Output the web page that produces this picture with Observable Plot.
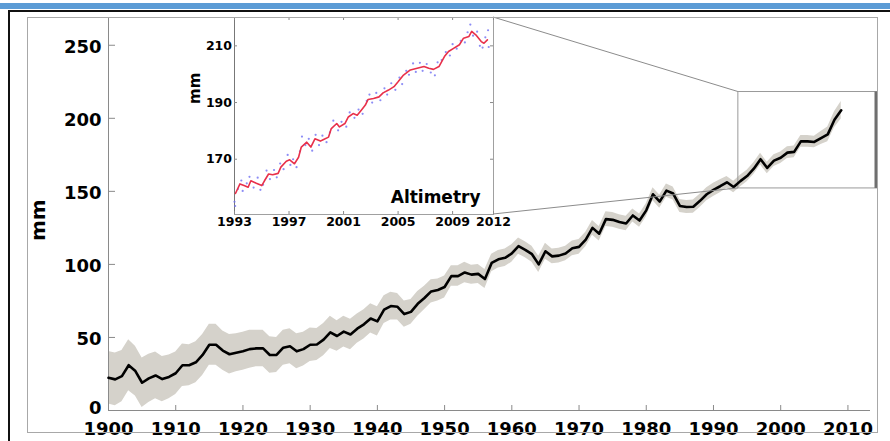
<!DOCTYPE html>
<html><head><meta charset="utf-8">
<script src="https://cdn.jsdelivr.net/npm/d3@7"></script>
<script src="https://cdn.jsdelivr.net/npm/@observablehq/plot@0.6"></script>
<style>
html,body{margin:0;padding:0;background:#fff;}
#wrap{position:relative;width:890px;height:441px;overflow:hidden;}
#wrap svg{position:absolute;left:0;top:0;}
.deco{position:absolute;box-sizing:border-box;}
</style></head><body>
<div id="wrap"></div>
<script>
// ---------- main series (global mean sea level, mm) ----------
const firstYear = 1900, lastYear = 2009;
const gmsl = [
  22.4,21.3,23.5,31,27,19,22,24,21.5,23,
  25.5,31,31,33,38,45,45,41,38.5,39.5,
  40.5,42,42.5,42.5,38,38,43,44,40.5,42,
  45,45.2,48.5,53.5,51,54,52,56,59,63,
  61,69,71.5,71,66,67.5,73,77,81.5,82.5,
  84.5,92,92,94.5,93,93.5,90,101,103.5,104.5,
  107.5,112.5,110,107,100,109,105.5,106,107.5,111,
  112,117,125,121,131,130.5,129,128,133.5,130,
  137,148,143,150.5,148.5,140,139.3,139.5,143.5,148,
  151,153.5,156.2,153,157,160.5,165.5,172,166,171,
  173,176.5,177,184.2,184.2,183.8,186.5,189,199,205.5
];
const uncertainty = [
  18,18,17.5,17.5,17,17,16.5,16,15.5,15,
  14.5,14.5,14,14,14,14,14,13.5,13.5,13,
  13,13,12.5,12.5,12.5,12,12,12,12,11.5,
  11.5,11,11,11,10.5,10.5,10.5,10,10,10,
  10,9.5,9.5,9,9,8.5,8.5,8,8,7.5,
  7.5,7,7,7,6.5,6.5,6.5,6,6,6,
  6,5.5,5.5,5.5,5.5,5.5,5,5,5,5,
  5,5,5,5,5,5,5,5,4.5,4.5,
  4.5,4.5,4.5,4.5,4.5,4.5,4.5,4.5,4.5,4.5,
  4.5,4.5,4,4,4,4,4,4,4,4,
  4,4,4,4,4,4,4.5,5,5.5,6
];
const xTicks = [1900,1910,1920,1930,1940,1950,1960,1970,1980,1990,2000,2010];
const yTicks = [0,50,100,150,200,250];
const xDomain = [1900, 2014.4];
const yDomain = [0, 269];
const zoomX = [1993.7, 2014.4];
const zoomY = [152, 218];

// ---------- inset (satellite altimetry) ----------
const redYears = [1993.07,1993.4,1993.7,1994.0,1994.2,1994.6,1995.0,1995.2,1995.5,1995.8,1996.2,1996.4,1996.8,1997.05,1997.4,1997.7,1997.9,1998.3,1998.6,1998.9,1999.3,1999.5,1999.9,2000.1,2000.5,2000.7,2001.1,2001.35,2001.7,2002.0,2002.3,2002.6,2002.8,2003.2,2003.6,2003.9,2004.3,2004.7,2005.0,2005.4,2005.9,2006.4,2006.9,2007.25,2007.6,2008.0,2008.4,2008.7,2009.1,2009.5,2009.8,2010.2,2010.4,2010.7,2011.1,2011.3,2011.55];
const redValues = [157.9,161.3,160.7,160.1,162.4,161.5,160.7,162.4,164.8,164.5,165.0,167.2,169.3,169.8,168.4,170.7,174.3,176.0,174.3,177.2,176.4,176.9,177.8,180.8,182.6,181.4,182.6,184.9,186.1,185.5,187.3,189.1,191.1,191.4,192.0,193.4,194.4,195.6,197.3,199.7,201.5,202.1,202.7,202.1,201.7,202.7,206.2,208.0,209.2,210.4,212.7,213.3,215.1,213.9,211.5,210.9,212.1];
const blueYears = [1993.0,1993.05,1993.25,1993.5,1993.6,1993.9,1994.1,1994.4,1994.7,1994.9,1995.1,1995.35,1995.6,1995.9,1996.1,1996.35,1996.6,1996.9,1997.1,1997.3,1997.55,1997.8,1997.95,1998.2,1998.45,1998.7,1998.95,1999.2,1999.45,1999.75,2000.0,2000.25,2000.6,2000.85,2001.2,2001.45,2001.8,2002.1,2002.4,2002.7,2002.9,2003.1,2003.4,2003.7,2004.0,2004.2,2004.5,2004.8,2005.1,2005.3,2005.6,2005.8,2006.1,2006.3,2006.6,2006.8,2007.1,2007.4,2007.7,2007.9,2008.2,2008.5,2008.8,2009.0,2009.3,2009.6,2009.9,2010.1,2010.3,2010.5,2010.8,2011.0,2011.2,2011.4,2011.6,2011.65];
const blueValues = [155,153.5,159.5,162.5,158.8,161.5,163.8,160.0,163.5,159.2,161.0,166.0,163.0,166.2,163.6,168.5,166.5,171.5,168.0,170.0,167.2,172.8,178.0,175.0,177.2,173.0,178.6,175.0,178.3,176.0,179.5,183.6,180.2,183.2,181.5,186.5,184.6,187.5,186.0,190.6,192.8,190.0,193.4,190.8,195.0,192.8,196.8,194.5,198.8,196.5,201.2,199.8,203.8,200.8,204.0,201.2,203.6,200.6,199.6,204.2,205.0,207.8,206.6,210.6,209.0,211.8,211.2,214.8,217.5,213.6,215.0,210.0,209.4,213.0,215.5,209.6];
const insetXTicks = [1993,1997,2001,2005,2009,2012];
const insetYTicks = [170,190,210];
const insetXDomain = [1993, 2012];
const insetYDomain = [150.5, 220];

// ---------- build tables ----------
const years = d3.range(firstYear, lastYear + 1);
const rows = years.map((y, i) => ({year: y, v: gmsl[i], lo: gmsl[i] - uncertainty[i], hi: gmsl[i] + uncertainty[i]}));
const red = redYears.map((t, i) => ({t, v: redValues[i]}));
const blue = blueYears.map((t, i) => ({t, v: blueValues[i]}));
const zoom = {x1: zoomX[0], x2: zoomX[1], y1: zoomY[0], y2: zoomY[1]};

const W = 890, H = 441;
const M = {l: 108, r: 13, t: 17, b: 31};
const fw = W - M.l - M.r, fh = H - M.t - M.b;
const axisGray = "#8a8a8a";
const baseStyle = {fontFamily: "'DejaVu Sans', sans-serif", fontWeight: "bold", background: "transparent", color: "#000", overflow: "visible"};

const mainPlot = Plot.plot({
  width: W, height: H,
  marginLeft: M.l, marginRight: M.r, marginTop: M.t, marginBottom: M.b,
  x: {domain: xDomain},
  y: {domain: yDomain},
  style: baseStyle,
  marks: [
    Plot.areaY(rows, {x: "year", y1: "lo", y2: "hi", fill: "#d5d2cb"}),
    Plot.ruleY([yDomain[0]], {stroke: axisGray, insetRight: 7}),
    Plot.ruleX([xDomain[0]], {stroke: axisGray}),
    Plot.tickX(xTicks, {x: d => d, stroke: axisGray, insetTop: fh - 5}),
    Plot.tickY(yTicks, {y: d => d, stroke: axisGray, insetRight: fw - 7}),
    Plot.axisX({ticks: xTicks, tickSize: 0, tickPadding: 12, fontSize: 18, tickFormat: d => String(d), label: null}),
    Plot.axisY({ticks: yTicks.slice(1), tickSize: 0, tickPadding: 7, fontSize: 18, tickFormat: d => String(d), label: null, dy: 1.5}),
    Plot.axisY({ticks: yTicks.slice(0, 1), tickSize: 0, tickPadding: 7, fontSize: 18, tickFormat: d => String(d), label: null, dy: -2}),
    Plot.rect([zoom], {x1: "x1", x2: "x2", y1: "y1", y2: "y2", stroke: "#9a9a9a", fill: "none"}),
    Plot.ruleX([zoom], {x: "x2", y1: "y1", y2: "y2", stroke: "#6f6f6f", strokeWidth: 3, dx: -1.5}),
    Plot.line(rows, {x: "year", y: "v", stroke: "#000", strokeWidth: 2.6}),
    Plot.text(["mm"], {frameAnchor: "left", dx: -70, dy: 27, rotate: -90, fontSize: 20})
  ]
});

const IM = {l: 234, r: 397, t: 17, b: 227};
const iw = W - IM.l - IM.r, ih = H - IM.t - IM.b;
const insetPlot = Plot.plot({
  width: W, height: H,
  marginLeft: IM.l, marginRight: IM.r, marginTop: IM.t, marginBottom: IM.b,
  x: {domain: insetXDomain},
  y: {domain: insetYDomain},
  style: baseStyle,
  marks: [
    Plot.frame({fill: "white", stroke: "#a0a0a0"}),
    Plot.ruleX([insetXDomain[0]], {stroke: "#777"}),
    Plot.tickX(insetXTicks, {x: d => d, stroke: axisGray, insetTop: ih - 3}),
    Plot.tickX(insetXTicks, {x: d => d, stroke: axisGray, insetBottom: ih - 3}),
    Plot.tickY(insetYTicks, {y: d => d, stroke: axisGray, insetRight: iw - 3}),
    Plot.tickY(insetYTicks, {y: d => d, stroke: axisGray, insetLeft: iw - 3}),
    Plot.axisX({ticks: insetXTicks, tickSize: 0, tickPadding: 3, fontSize: 12.5, tickFormat: d => String(d), label: null}),
    Plot.axisY({ticks: insetYTicks, tickSize: 0, tickPadding: 2.5, fontSize: 12.5, tickFormat: d => String(d), label: null}),
    Plot.dot(blue, {x: "t", y: "v", r: 1.1, fill: "#6f6ff2", fillOpacity: 0.8}),
    Plot.line(red, {x: "t", y: "v", stroke: "#e8304a", strokeWidth: 1.6}),
    Plot.text(["Altimetry"], {frameAnchor: "bottom-right", dx: -13, dy: -12, fontSize: 17, textAnchor: "end", lineAnchor: "bottom"}),
    Plot.text(["mm"], {frameAnchor: "left", dx: -39, dy: -12, rotate: -90, fontSize: 15})
  ]
});

// connector lines from the inset to the zoom box, positioned through both plots' scales
const mx = mainPlot.scale("x"), my = mainPlot.scale("y");
const ix = insetPlot.scale("x"), iy = insetPlot.scale("y");
const links = [
  [ix.apply(insetXDomain[1]), iy.apply(insetYDomain[1]), mx.apply(zoom.x1), my.apply(zoom.y2)],
  [ix.apply(insetXDomain[1]), iy.apply(insetYDomain[0]), mx.apply(zoom.x1), my.apply(zoom.y1)]
];
d3.select(insetPlot).append("g").attr("stroke", "#8c8c8c").attr("stroke-width", 1)
  .selectAll("line").data(links).join("line")
  .attr("x1", d => d[0]).attr("y1", d => d[1]).attr("x2", d => d[2]).attr("y2", d => d[3]);

const wrap = document.getElementById("wrap");
wrap.appendChild(mainPlot);
wrap.appendChild(insetPlot);

// page decoration: top blue rule, black frame, grey figure box
const deco = [
  "left:0;top:3px;width:890px;height:6px;background:#5b9bd5",
  "left:8px;top:10px;width:882px;height:2px;background:#111",
  "left:8px;top:10px;width:2px;height:431px;background:#111",
  "left:27px;top:17px;width:851px;height:416px;border:1px solid #a8a8a8"
];
deco.forEach(s => { const d = document.createElement("div"); d.className = "deco"; d.style.cssText = s; wrap.appendChild(d); });
</script>
</body></html>
